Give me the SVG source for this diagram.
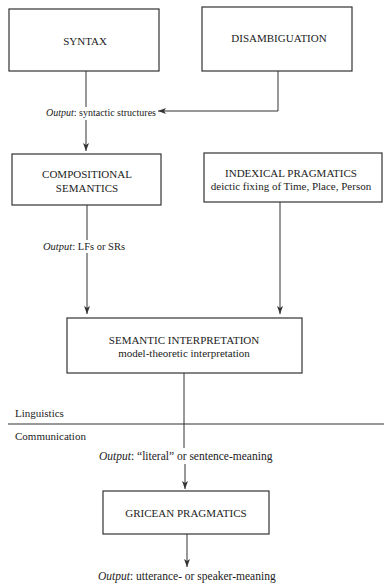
<svg xmlns="http://www.w3.org/2000/svg" width="384" height="588" viewBox="0 0 384 588" font-family="'Liberation Serif', 'DejaVu Serif', serif">
<defs>
<style>
.box{fill:#fff;stroke:#333;stroke-width:1.2}
.ln{fill:none;stroke:#333;stroke-width:1}
.t{font-family:'Liberation Serif','DejaVu Serif',serif;fill:#222;font-size:11px}
.c{text-anchor:middle}
.o{font-style:italic}
</style>
<marker id="ah" viewBox="0 0 8 8" refX="8" refY="4" markerWidth="8" markerHeight="8" markerUnits="userSpaceOnUse" orient="auto">
<path d="M0,1 L8,4 L0,7 L2,4 Z" fill="#333"/>
</marker>
</defs>
<rect width="384" height="588" fill="#fff"/>

<g id="connectors">
<line class="ln" x1="86" y1="71" x2="86" y2="107"/>
<polyline class="ln" points="278,71 278,111 158,111" marker-end="url(#ah)"/>
<line class="ln" x1="86" y1="120" x2="86" y2="151" marker-end="url(#ah)"/>
<line class="ln" x1="87" y1="205" x2="87" y2="240"/>
<line class="ln" x1="87" y1="253" x2="87" y2="314" marker-end="url(#ah)"/>
<line class="ln" x1="280" y1="202" x2="280" y2="314" marker-end="url(#ah)"/>
<line class="ln" x1="184" y1="373" x2="184" y2="448"/>
<line class="ln" x1="185" y1="464" x2="185" y2="489" marker-end="url(#ah)"/>
<line class="ln" x1="187" y1="534" x2="187" y2="567" marker-end="url(#ah)"/>
</g>

<g id="divider">
<line class="ln" x1="8" y1="424" x2="384" y2="424"/>
<text class="t" x="15" y="417">Linguistics</text>
<text class="t" x="15" y="440">Communication</text>
</g>

<g id="syntax">
<rect class="box" x="9" y="9" width="150" height="62"/>
<text class="t c" x="85" y="45">SYNTAX</text>
</g>

<g id="disambiguation">
<rect class="box" x="202" y="7" width="150" height="64"/>
<text class="t c" x="279" y="42">DISAMBIGUATION</text>
</g>

<g id="out-syntactic">
<text class="t" x="46" y="116" style="font-size:10px"><tspan class="o">Output</tspan>: syntactic structures</text>
</g>

<g id="compositional">
<rect class="box" x="12" y="154" width="149" height="51"/>
<text class="t c" x="87" y="178">COMPOSITIONAL</text>
<text class="t c" x="87" y="192">SEMANTICS</text>
</g>

<g id="indexical">
<rect class="box" x="204" y="153" width="178" height="49"/>
<text class="t c" x="291" y="177">INDEXICAL PRAGMATICS</text>
<text class="t c" x="291" y="190">deictic fixing of Time, Place, Person</text>
</g>

<g id="out-lfs">
<text class="t" x="43" y="250" style="font-size:10.5px"><tspan class="o">Output</tspan>: LFs or SRs</text>
</g>

<g id="semantic">
<rect class="box" x="67" y="318" width="235" height="55"/>
<text class="t c" x="184" y="344">SEMANTIC INTERPRETATION</text>
<text class="t c" x="184" y="357">model-theoretic interpretation</text>
</g>

<g id="out-literal">
<text class="t" x="99" y="460" style="font-size:11.5px"><tspan class="o">Output</tspan>: “literal” or sentence-meaning</text>
</g>

<g id="gricean">
<rect class="box" x="103" y="491" width="166" height="43"/>
<text class="t c" x="186" y="517">GRICEAN PRAGMATICS</text>
</g>

<g id="out-utterance">
<text class="t" x="98" y="580" style="font-size:11.5px"><tspan class="o">Output</tspan>:  utterance- or speaker-meaning</text>
</g>
</svg>
